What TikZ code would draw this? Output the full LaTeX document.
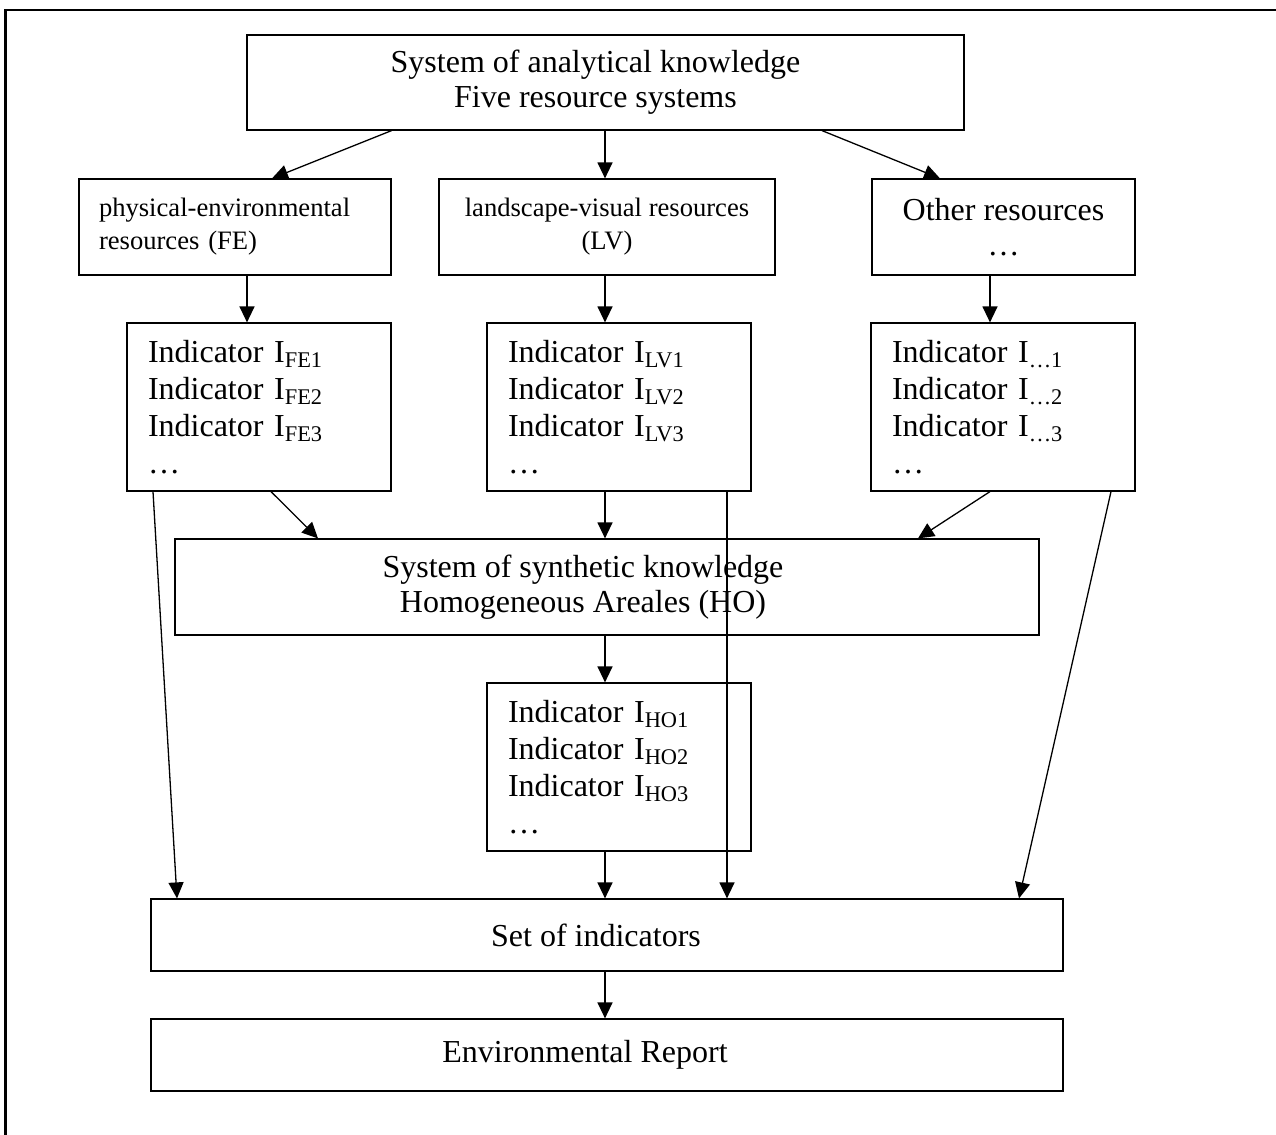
\documentclass[tikz,border=0pt]{standalone}
\usepackage{fontspec}
\setmainfont{Liberation Serif}
\usepackage{tikz}
\usetikzlibrary{arrows.meta}
\usetikzlibrary{positioning}

\tikzset{
  box/.style={draw, line width=0.6pt, inner sep=0pt, align=center,
    font=\fontsize{16}{17.5}\selectfont},
  smallbox/.style={box, font=\fontsize{13.3}{16.5}\selectfont},
  indbox/.style={box, align=left, text width=111pt, inner xsep=10.5pt,
    minimum width=132pt, minimum height=84pt,
    font=\fontsize{16}{18.5}\selectfont},
  flow/.style={-{Triangle[length=8pt,width=7.5pt]}, line width=0.65pt}
}

\begin{document}
\begin{tikzpicture}[x=0.5pt, y=-0.5pt]
  \useasboundingbox (0,0) rectangle (1276,1135);
  \draw [line width=1.25pt] (5.5,1135) -- (5.5,10) -- (1276,10);

  \node (analytic) [box, minimum width=358.5pt, minimum height=47.5pt] at (605.5,82.5)
    {\hspace*{-10pt}System of analytical knowledge\\\hspace*{-10pt}Five resource systems};

  \node (fe) [smallbox, align=left, text width=136pt, inner xsep=10pt,
    minimum width=156pt, minimum height=48pt] at (235,227)
    {physical-environmental\\resources (FE)};
  \node (lv) [smallbox, minimum width=168pt, minimum height=48pt] at (607,227)
    {landscape-visual resources\\(LV)};
  \node (other) [box, minimum width=131.5pt, minimum height=48pt] at (1003.5,227)
    {Other resources\\…};

  \node (ife) [indbox] at (259,407)
    {Indicator I\textsubscript{FE1}\\Indicator I\textsubscript{FE2}\\Indicator I\textsubscript{FE3}\\…};
  \node (ilv) [indbox] at (619,407)
    {Indicator I\textsubscript{LV1}\\Indicator I\textsubscript{LV2}\\Indicator I\textsubscript{LV3}\\…};
  \node (iot) [indbox] at (1003,407)
    {Indicator I\textsubscript{…1}\\Indicator I\textsubscript{…2}\\Indicator I\textsubscript{…3}\\…};

  \node (synth) [box, minimum width=432pt, minimum height=48pt] at (607,587)
    {\hspace*{-24pt}System of synthetic knowledge\\\hspace*{-24pt}Homogeneous Areales (HO)};

  \node (iho) [indbox] at (619,767)
    {Indicator I\textsubscript{HO1}\\Indicator I\textsubscript{HO2}\\Indicator I\textsubscript{HO3}\\…};

  \node (set) [box, minimum width=456pt, minimum height=36pt] at (607,935)
    {\hspace*{-11pt}Set of indicators};
  \node (report) [box, minimum width=456pt, minimum height=36pt] at (607,1055)
    {\hspace*{-22pt}Environmental Report};

  % columns of the vertical arrows
  \coordinate (lcol) at (247,0);
  \coordinate (mid) at (605,0);
  \coordinate (rcol) at (990,0);
  \coordinate (lvdrop) at (727,0);

  \draw [flow] (analytic.south -| fe.east) -- ([xshift=18.5pt]fe.north);
  \draw [flow] (analytic.south -| mid) -- (lv.north -| mid);
  \draw [flow] ([xshift=108.25pt]analytic.south) -- ([xshift=-31.75pt]other.north);

  \draw [flow] (fe.south -| lcol) -- (ife.north -| lcol);
  \draw [flow] (lv.south -| mid) -- (ilv.north -| mid);
  \draw [flow] (other.south -| rcol) -- (iot.north -| rcol);

  \draw [flow] ([xshift=6pt]ife.south) -- ([xshift=-144.5pt]synth.north);
  \draw [flow] (ilv.south -| mid) -- (synth.north -| mid);
  \draw [flow] (iot.south -| rcol) -- ([xshift=155.5pt]synth.north);

  \draw [flow] (synth.south -| mid) -- (iho.north -| mid);

  \draw [flow] ([xshift=-53pt]ife.south) -- ([xshift=-215pt]set.north);
  \draw [flow] (iho.south -| mid) -- (set.north -| mid);
  \draw [flow] (ilv.south -| lvdrop) -- (set.north -| lvdrop);
  \draw [flow] ([xshift=54pt]iot.south) -- ([xshift=206pt]set.north);

  \draw [flow] (set.south -| mid) -- (report.north -| mid);
\end{tikzpicture}
\end{document}
